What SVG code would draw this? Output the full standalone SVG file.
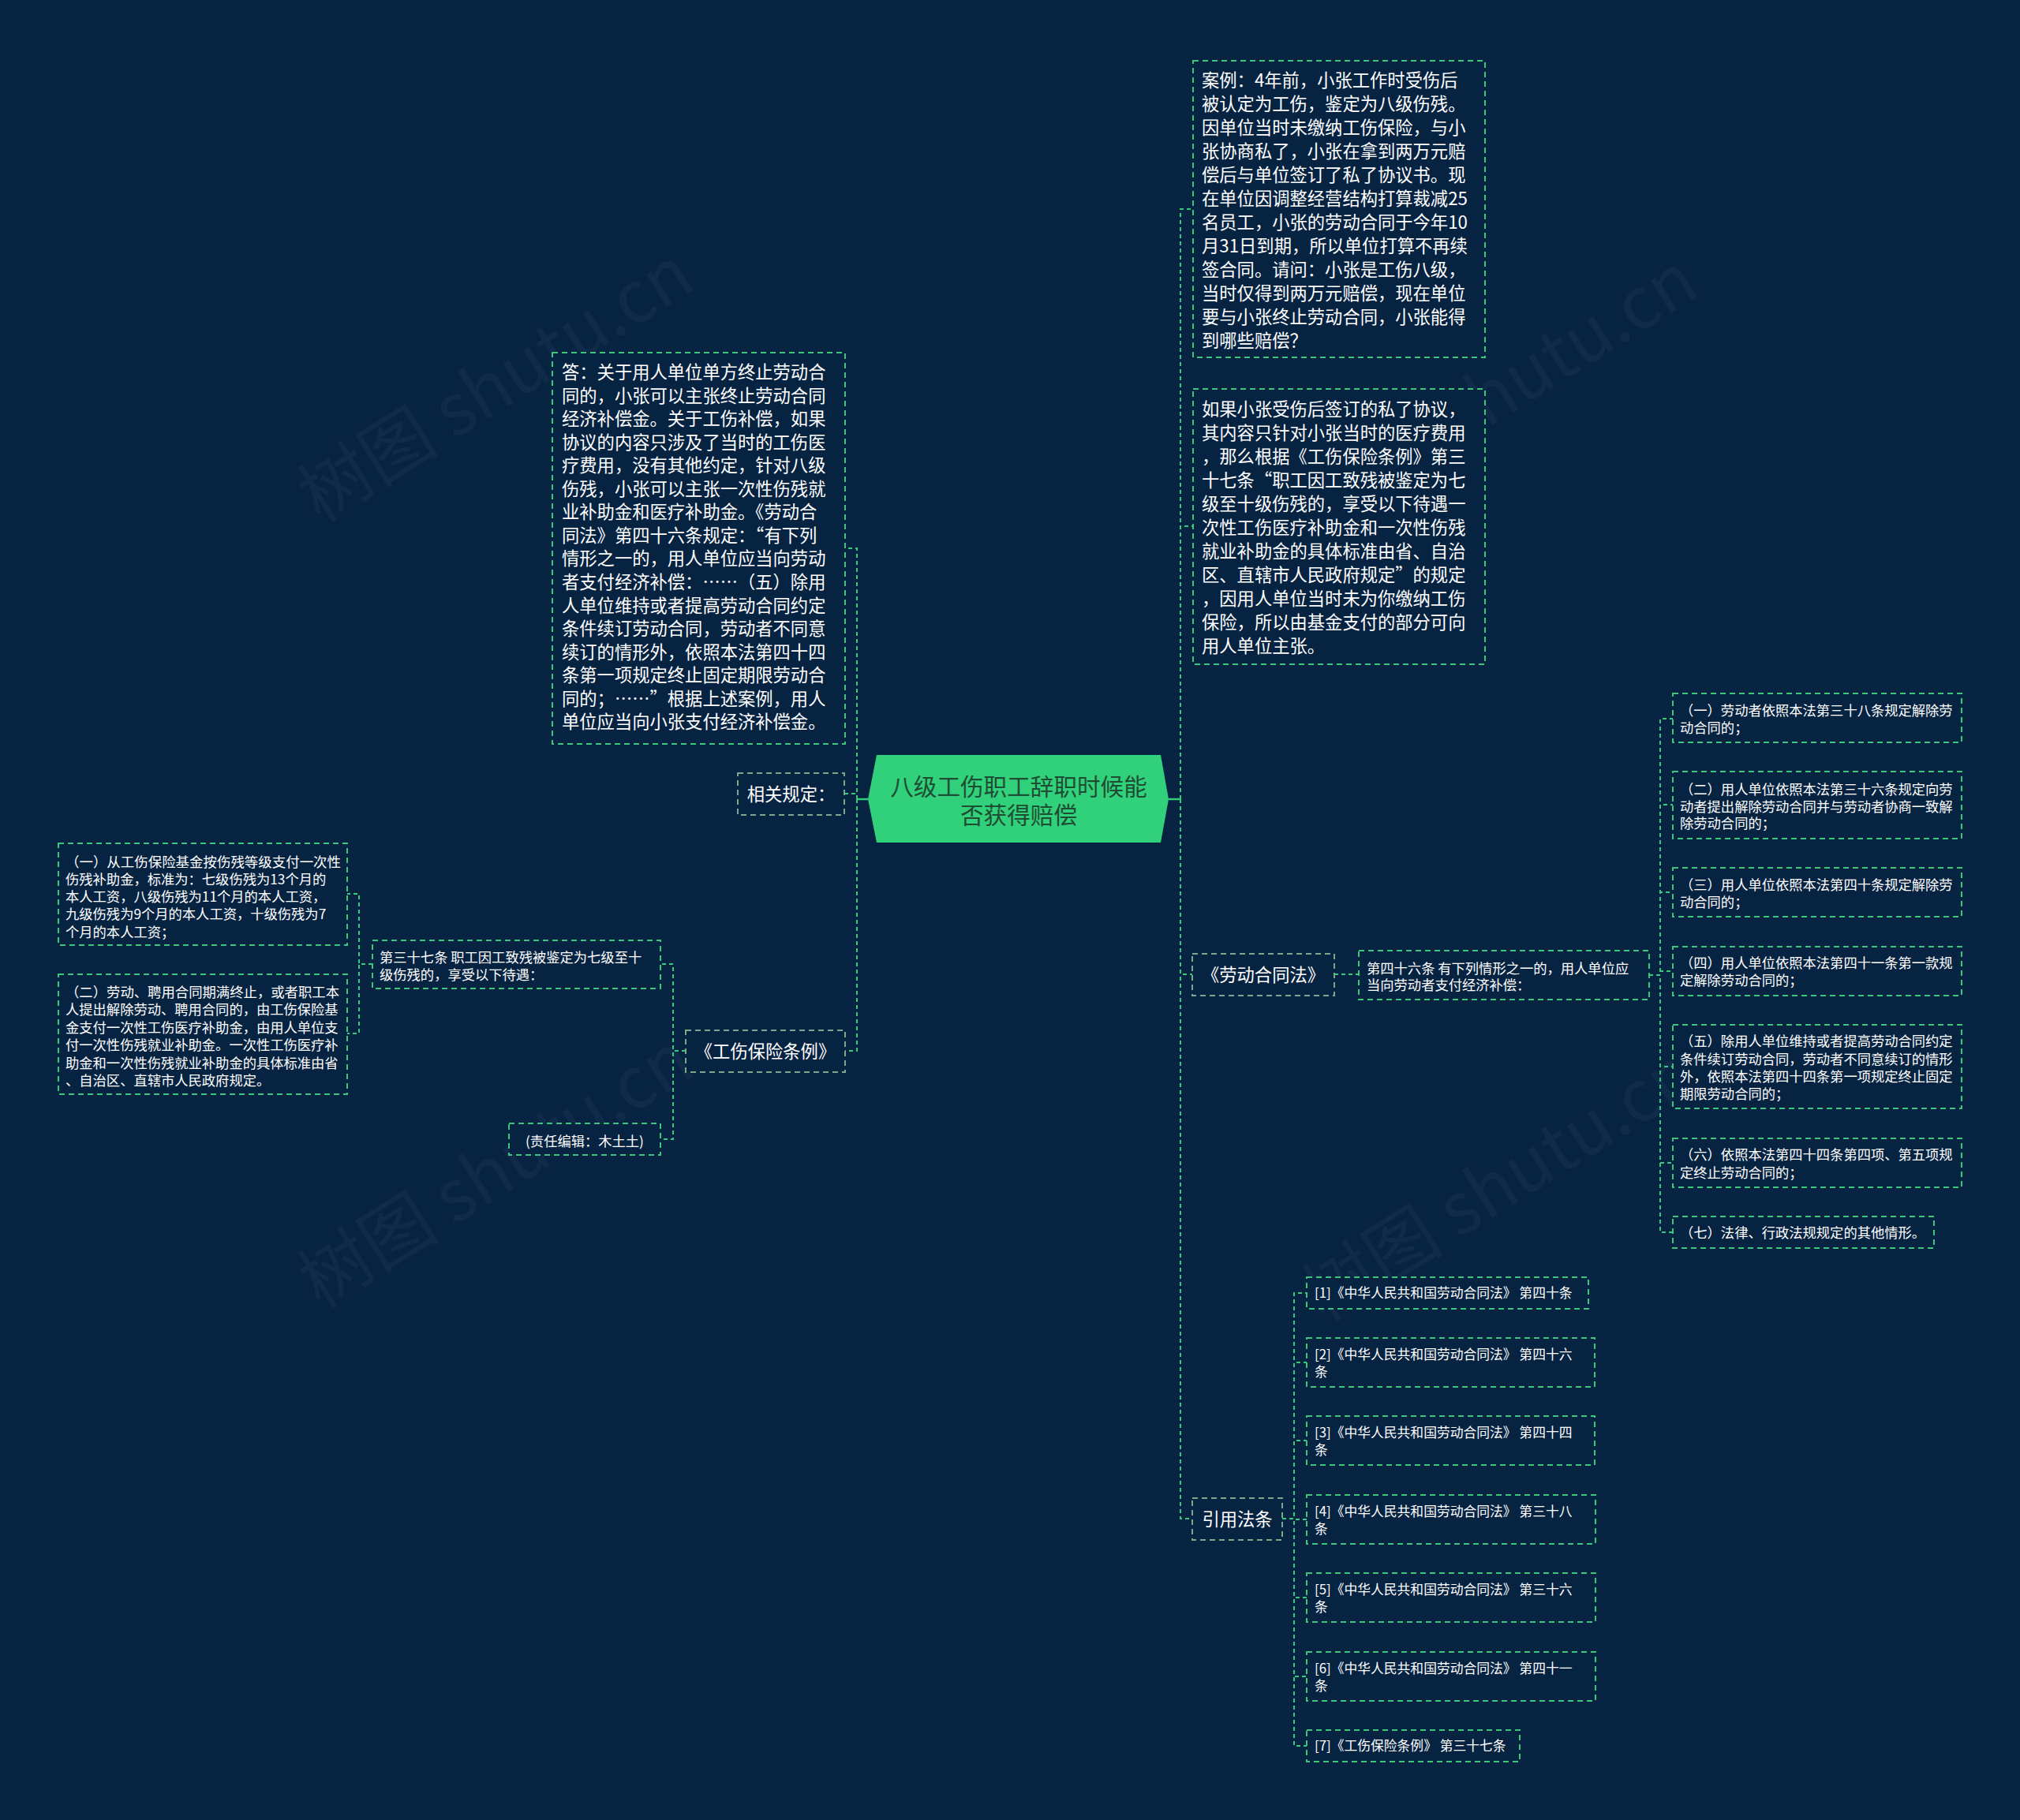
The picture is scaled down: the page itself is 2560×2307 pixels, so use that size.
<svg xmlns="http://www.w3.org/2000/svg" width="2560" height="2307" viewBox="0 0 2560 2307">
<defs>
<style>
.bg{fill:#072342}
.box{fill:#072342;stroke:#3cc67c;stroke-width:2;stroke-dasharray:7 5}
.box1{fill:#072342;stroke:#7aa88b;stroke-width:2;stroke-dasharray:7 5}
.t{font-family:"Noto Sans CJK SC","Noto Sans",sans-serif;fill:#ffffff}
.t22{font-size:22.3px}
.t17{font-size:17.3px}
.tc{font-size:16.8px}
.mid{text-anchor:middle}
.c{fill:none;stroke:#35c97a;stroke-width:2;stroke-dasharray:5 4}
.cs{fill:none;stroke:#35c97a;stroke-width:2.5}
.wm{font-family:"Noto Sans CJK SC","Noto Sans",sans-serif;font-size:90px;fill:#ffffff;opacity:0.035}
</style>
</defs>
<rect class="bg" x="0" y="0" width="2560" height="2307"/>

<g id="watermarks">
<text class="wm mid" transform="translate(645,514) rotate(-32)">树图 shutu.cn</text>
<text class="wm mid" transform="translate(1918,522) rotate(-32)">树图 shutu.cn</text>
<text class="wm mid" transform="translate(645,1510) rotate(-32)">树图 shutu.cn</text>
<text class="wm mid" transform="translate(1918,1527) rotate(-32)">树图 shutu.cn</text>
</g>

<g id="connectors">
<path class="cs" d="M1100,1013 H1086"/>
<path class="cs" d="M1481,1013 H1496"/>
<path class="c" d="M1086,1013 V695 H1071"/>
<path class="c" d="M1086,1013 V1006 H1070"/>
<path class="c" d="M1086,1013 V1332 H1071"/>
<path class="c" d="M1496,1013 V265 H1512"/>
<path class="c" d="M1496,1013 V667 H1512"/>
<path class="c" d="M1496,1013 V1235 H1511"/>
<path class="c" d="M1496,1013 V1925 H1511"/>
<path class="c" d="M869,1332 H853 V1222 H837"/>
<path class="c" d="M869,1332 H853 V1444 H837"/>
<path class="c" d="M472,1222 H455 V1133 H440"/>
<path class="c" d="M472,1222 H455 V1310 H440"/>
<path class="c" d="M1691,1235 H1722"/>
<path class="c" d="M2090,1236 H2104 V911 H2120"/>
<path class="c" d="M2090,1236 H2104 V1020 H2120"/>
<path class="c" d="M2090,1236 H2104 V1131 H2120"/>
<path class="c" d="M2090,1236 H2104 V1231 H2120"/>
<path class="c" d="M2090,1236 H2104 V1352 H2120"/>
<path class="c" d="M2090,1236 H2104 V1474 H2120"/>
<path class="c" d="M2090,1236 H2104 V1562 H2120"/>
<path class="c" d="M1625,1925 H1640 V1639 H1656"/>
<path class="c" d="M1625,1925 H1640 V1727 H1656"/>
<path class="c" d="M1625,1925 H1640 V1826 H1656"/>
<path class="c" d="M1625,1925 H1640 V1926 H1656"/>
<path class="c" d="M1625,1925 H1640 V2025 H1656"/>
<path class="c" d="M1625,1925 H1640 V2125 H1656"/>
<path class="c" d="M1625,1925 H1640 V2213 H1656"/>
</g>

<g id="root">
<path d="M1111,957 L1471,957 L1481,1013 L1471,1068 L1111,1068 L1100,1013 Z" fill="#31d07a"/>
<text class="t mid" style="font-size:29.6px;fill:#1f4d33" x="1291"><tspan x="1291" y="1008">八级工伤职工辞职时候能</tspan><tspan x="1291" y="1044">否获得赔偿</tspan></text>
</g>

<g id="case">
<rect class="box" x="1512" y="77" width="370" height="376"/>
<text class="t t22">
<tspan x="1523" y="110">案例：4年前，小张工作时受伤后</tspan>
<tspan x="1523" y="140">被认定为工伤，鉴定为八级伤残。</tspan>
<tspan x="1523" y="170">因单位当时未缴纳工伤保险，与小</tspan>
<tspan x="1523" y="200">张协商私了，小张在拿到两万元赔</tspan>
<tspan x="1523" y="230">偿后与单位签订了私了协议书。现</tspan>
<tspan x="1523" y="260">在单位因调整经营结构打算裁减25</tspan>
<tspan x="1523" y="290">名员工，小张的劳动合同于今年10</tspan>
<tspan x="1523" y="320">月31日到期，所以单位打算不再续</tspan>
<tspan x="1523" y="350">签合同。请问：小张是工伤八级，</tspan>
<tspan x="1523" y="380">当时仅得到两万元赔偿，现在单位</tspan>
<tspan x="1523" y="410">要与小张终止劳动合同，小张能得</tspan>
<tspan x="1523" y="440">到哪些赔偿？</tspan>
</text>
</g>

<g id="analysis">
<rect class="box" x="1512" y="493" width="370" height="349"/>
<text class="t t22">
<tspan x="1523" y="527">如果小张受伤后签订的私了协议，</tspan>
<tspan x="1523" y="557">其内容只针对小张当时的医疗费用</tspan>
<tspan x="1523" y="587">，那么根据《工伤保险条例》第三</tspan>
<tspan x="1523" y="617">十七条“职工因工致残被鉴定为七</tspan>
<tspan x="1523" y="647">级至十级伤残的，享受以下待遇一</tspan>
<tspan x="1523" y="677">次性工伤医疗补助金和一次性伤残</tspan>
<tspan x="1523" y="707">就业补助金的具体标准由省、自治</tspan>
<tspan x="1523" y="737">区、直辖市人民政府规定”的规定</tspan>
<tspan x="1523" y="767">，因用人单位当时未为你缴纳工伤</tspan>
<tspan x="1523" y="797">保险，所以由基金支付的部分可向</tspan>
<tspan x="1523" y="827">用人单位主张。</tspan>
</text>
</g>

<g id="answer">
<rect class="box" x="700" y="447" width="371" height="496"/>
<text class="t t22">
<tspan x="712" y="480">答：关于用人单位单方终止劳动合</tspan>
<tspan x="712" y="509.6">同的，小张可以主张终止劳动合同</tspan>
<tspan x="712" y="539.1">经济补偿金。关于工伤补偿，如果</tspan>
<tspan x="712" y="568.7">协议的内容只涉及了当时的工伤医</tspan>
<tspan x="712" y="598.2">疗费用，没有其他约定，针对八级</tspan>
<tspan x="712" y="627.8">伤残，小张可以主张一次性伤残就</tspan>
<tspan x="712" y="657.3">业补助金和医疗补助金。《劳动合</tspan>
<tspan x="712" y="686.9">同法》第四十六条规定：“有下列</tspan>
<tspan x="712" y="716.4">情形之一的，用人单位应当向劳动</tspan>
<tspan x="712" y="746">者支付经济补偿：……（五）除用</tspan>
<tspan x="712" y="775.5">人单位维持或者提高劳动合同约定</tspan>
<tspan x="712" y="805.1">条件续订劳动合同，劳动者不同意</tspan>
<tspan x="712" y="834.6">续订的情形外，依照本法第四十四</tspan>
<tspan x="712" y="864.2">条第一项规定终止固定期限劳动合</tspan>
<tspan x="712" y="893.7">同的；……”根据上述案例，用人</tspan>
<tspan x="712" y="923.3">单位应当向小张支付经济补偿金。</tspan>
</text>
</g>

<g id="related">
<rect class="box1" x="935" y="980" width="135" height="53"/>
<text class="t t22 mid" x="1002.5" y="1015">相关规定：</text>
</g>

<g id="regulation">
<rect class="box1" x="869" y="1306" width="202" height="53"/>
<text class="t t22 mid" x="970" y="1341">《工伤保险条例》</text>
</g>

<g id="art37">
<rect class="box" x="472" y="1192" width="365" height="61"/>
<text class="t t17">
<tspan x="481" y="1219.5">第三十七条 职工因工致残被鉴定为七级至十</tspan>
<tspan x="481" y="1241.5">级伤残的，享受以下待遇：</tspan>
</text>
</g>

<g id="editor">
<rect class="box" x="645" y="1424" width="192" height="40"/>
<text class="t t17 mid" x="741" y="1453">(责任编辑：木土土)</text>
</g>

<g id="art37-1">
<rect class="box" x="74" y="1069" width="366" height="129"/>
<text class="t t17">
<tspan x="83" y="1098.5" textLength="349" lengthAdjust="spacingAndGlyphs">（一）从工伤保险基金按伤残等级支付一次性</tspan>
<tspan x="83" y="1120.5">伤残补助金，标准为：七级伤残为13个月的</tspan>
<tspan x="83" y="1143">本人工资，八级伤残为11个月的本人工资，</tspan>
<tspan x="83" y="1165">九级伤残为9个月的本人工资，十级伤残为7</tspan>
<tspan x="83" y="1187.5">个月的本人工资；</tspan>
</text>
</g>

<g id="art37-2">
<rect class="box" x="74" y="1235" width="366" height="152"/>
<text class="t t17">
<tspan x="83" y="1263.5" textLength="347" lengthAdjust="spacingAndGlyphs">（二）劳动、聘用合同期满终止，或者职工本</tspan>
<tspan x="83" y="1286">人提出解除劳动、聘用合同的，由工伤保险基</tspan>
<tspan x="83" y="1308.5">金支付一次性工伤医疗补助金，由用人单位支</tspan>
<tspan x="83" y="1331">付一次性伤残就业补助金。一次性工伤医疗补</tspan>
<tspan x="83" y="1353.5">助金和一次性伤残就业补助金的具体标准由省</tspan>
<tspan x="83" y="1376">、自治区、直辖市人民政府规定。</tspan>
</text>
</g>

<g id="labor-law">
<rect class="box1" x="1511" y="1209" width="180" height="53"/>
<text class="t t22 mid" x="1601" y="1244">《劳动合同法》</text>
</g>

<g id="art46">
<rect class="box" x="1722" y="1205" width="368" height="62"/>
<text class="t t17">
<tspan x="1732" y="1233.5">第四十六条 有下列情形之一的，用人单位应</tspan>
<tspan x="1732" y="1254.5">当向劳动者支付经济补偿：</tspan>
</text>
</g>

<g id="item1">
<rect class="box" x="2120" y="879" width="366" height="62"/>
<text class="t t17"><tspan x="2129" y="906.5">（一）劳动者依照本法第三十八条规定解除劳</tspan><tspan x="2129" y="928.5">动合同的；</tspan></text>
</g>
<g id="item2">
<rect class="box" x="2120" y="978" width="366" height="85"/>
<text class="t t17"><tspan x="2129" y="1006.5">（二）用人单位依照本法第三十六条规定向劳</tspan><tspan x="2129" y="1028.5">动者提出解除劳动合同并与劳动者协商一致解</tspan><tspan x="2129" y="1050">除劳动合同的；</tspan></text>
</g>
<g id="item3">
<rect class="box" x="2120" y="1100" width="366" height="62"/>
<text class="t t17"><tspan x="2129" y="1127.5">（三）用人单位依照本法第四十条规定解除劳</tspan><tspan x="2129" y="1149.5">动合同的；</tspan></text>
</g>
<g id="item4">
<rect class="box" x="2120" y="1200" width="366" height="62"/>
<text class="t t17"><tspan x="2129" y="1226.5">（四）用人单位依照本法第四十一条第一款规</tspan><tspan x="2129" y="1248.5">定解除劳动合同的；</tspan></text>
</g>
<g id="item5">
<rect class="box" x="2120" y="1299" width="366" height="106"/>
<text class="t t17"><tspan x="2129" y="1325.5">（五）除用人单位维持或者提高劳动合同约定</tspan><tspan x="2129" y="1348.5">条件续订劳动合同，劳动者不同意续订的情形</tspan><tspan x="2129" y="1371">外，依照本法第四十四条第一项规定终止固定</tspan><tspan x="2129" y="1393">期限劳动合同的；</tspan></text>
</g>
<g id="item6">
<rect class="box" x="2120" y="1443" width="366" height="62"/>
<text class="t t17"><tspan x="2129" y="1469.5">（六）依照本法第四十四条第四项、第五项规</tspan><tspan x="2129" y="1492.5">定终止劳动合同的；</tspan></text>
</g>
<g id="item7">
<rect class="box" x="2120" y="1542" width="331" height="40"/>
<text class="t t17" x="2129" y="1569">（七）法律、行政法规规定的其他情形。</text>
</g>

<g id="citations">
<rect class="box1" x="1511" y="1899" width="114" height="53"/>
<text class="t t22 mid" x="1568" y="1934">引用法条</text>
</g>

<g id="cite1">
<rect class="box" x="1656" y="1619" width="357" height="40"/>
<text class="t tc" x="1666" y="1645">[1]《中华人民共和国劳动合同法》 第四十条</text>
</g>
<g id="cite2">
<rect class="box" x="1656" y="1696" width="365" height="62"/>
<text class="t tc"><tspan x="1666" y="1723">[2]《中华人民共和国劳动合同法》 第四十六</tspan><tspan x="1666" y="1745">条</tspan></text>
</g>
<g id="cite3">
<rect class="box" x="1656" y="1795" width="365" height="62"/>
<text class="t tc"><tspan x="1666" y="1822">[3]《中华人民共和国劳动合同法》 第四十四</tspan><tspan x="1666" y="1844">条</tspan></text>
</g>
<g id="cite4">
<rect class="box" x="1656" y="1895" width="366" height="62"/>
<text class="t tc"><tspan x="1666" y="1922">[4]《中华人民共和国劳动合同法》 第三十八</tspan><tspan x="1666" y="1944">条</tspan></text>
</g>
<g id="cite5">
<rect class="box" x="1656" y="1994" width="366" height="62"/>
<text class="t tc"><tspan x="1666" y="2021">[5]《中华人民共和国劳动合同法》 第三十六</tspan><tspan x="1666" y="2043">条</tspan></text>
</g>
<g id="cite6">
<rect class="box" x="1656" y="2094" width="366" height="62"/>
<text class="t tc"><tspan x="1666" y="2121">[6]《中华人民共和国劳动合同法》 第四十一</tspan><tspan x="1666" y="2143">条</tspan></text>
</g>
<g id="cite7">
<rect class="box" x="1656" y="2193" width="270" height="40"/>
<text class="t tc" x="1666" y="2219">[7]《工伤保险条例》 第三十七条</text>
</g>
</svg>
